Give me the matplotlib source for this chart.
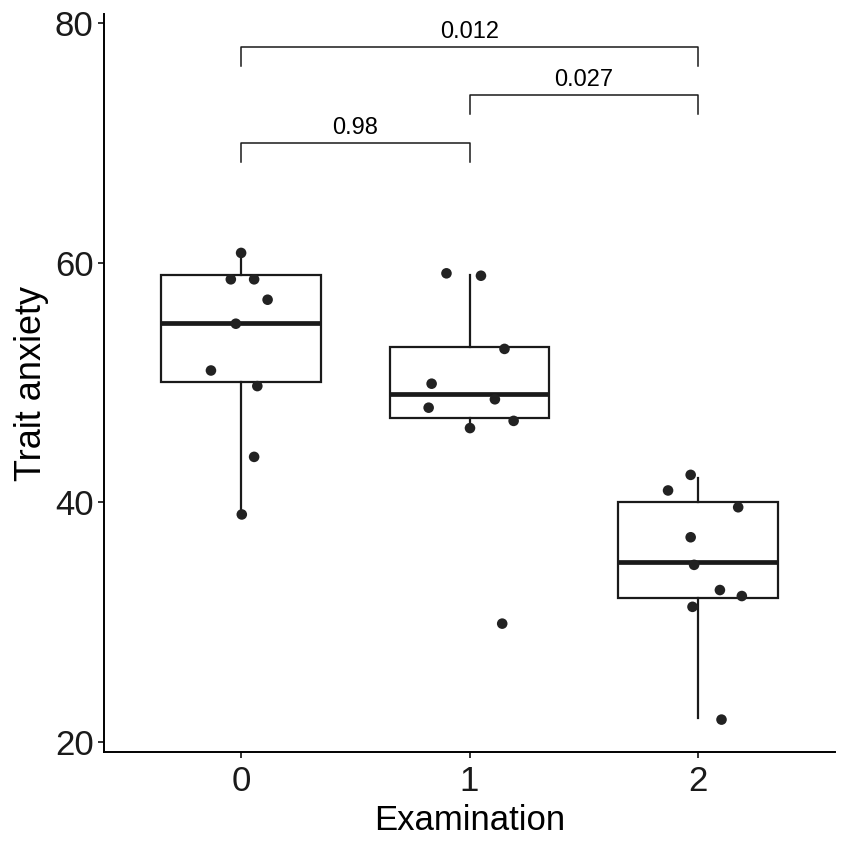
import numpy as np
import matplotlib
matplotlib.use("Agg")
import matplotlib.pyplot as plt

plt.rcParams['font.family'] = ['Liberation Sans', 'DejaVu Sans']

# Examination groups and trait anxiety scores (points as plotted, with jitter)
groups = ['0', '1', '2']
exam0 = [60.8, 58.6, 58.6, 56.9, 54.9, 51.0, 49.7, 43.8, 39.0]
exam1 = [59.1, 58.9, 52.8, 49.9, 48.6, 47.9, 46.8, 46.2, 29.9]
exam2 = [42.3, 41.0, 39.6, 37.1, 34.8, 32.7, 32.2, 31.3, 21.9]
jitter0 = [0.00, -0.045, 0.057, 0.116, -0.023, -0.132, 0.071, 0.057, 0.003]
jitter1 = [-0.101, 0.050, 0.153, -0.166, 0.111, -0.179, 0.193, 0.002, 0.143]
jitter2 = [-0.032, -0.131, 0.176, -0.032, -0.017, 0.096, 0.192, -0.024, 0.103]

# pairwise comparisons: (group a, group b, bracket height, p value)
comparisons = [(0, 1, 70.0, '0.98'), (1, 2, 74.0, '0.027'), (0, 2, 78.0, '0.012')]

scores = [exam0, exam1, exam2]
jitters = [jitter0, jitter1, jitter2]

fig = plt.figure(figsize=(8.5, 8.5), dpi=100)
ax = fig.add_axes([0.1224, 0.1153, 0.86, 0.868])

# boxes from the underlying integer scores
box_data = [np.round(s) for s in scores]
ax.boxplot(box_data, positions=range(len(groups)), widths=0.7,
           whis=1.5, showfliers=False, patch_artist=True,
           boxprops=dict(facecolor='white', edgecolor='#1a1a1a', linewidth=1.6),
           whiskerprops=dict(color='#1a1a1a', linewidth=1.6),
           capprops=dict(linewidth=0),
           medianprops=dict(color='#1a1a1a', linewidth=3.4, solid_capstyle='butt'),
           zorder=2)

for i, (s, j) in enumerate(zip(scores, jitters)):
    ax.scatter(np.array(j) + i, s, s=58, color='#222222', zorder=3,
               edgecolors='none')

# significance brackets
for a, b, h, p in comparisons:
    ax.plot([a, a, b, b], [h - 1.6, h, h, h - 1.6], color='#1a1a1a',
            linewidth=1.1, zorder=2)
    ax.text((a + b) / 2, h + 0.3, p, ha='center', va='bottom', fontsize=17)

ax.set_xlim(-0.6, 2.6)
ax.set_ylim(19.2, 80.7)
ax.set_xticks(range(len(groups)))
ax.set_xticklabels(groups)
ax.set_yticks([20, 40, 60, 80])

ax.spines['top'].set_visible(False)
ax.spines['right'].set_visible(False)
for sp in ['left', 'bottom']:
    ax.spines[sp].set_linewidth(1.4)
    ax.spines[sp].set_color('black')
ax.tick_params(axis='both', labelsize=25, width=1.4, length=4.5,
               color='#333333', labelcolor='#1a1a1a')
ax.tick_params(axis='x', pad=5)
ax.tick_params(axis='y', pad=3)

ax.set_xlabel('Examination', fontsize=25, labelpad=4)
ax.set_ylabel('Trait anxiety', fontsize=26, labelpad=4)

fig.savefig('out.png', dpi=100)
